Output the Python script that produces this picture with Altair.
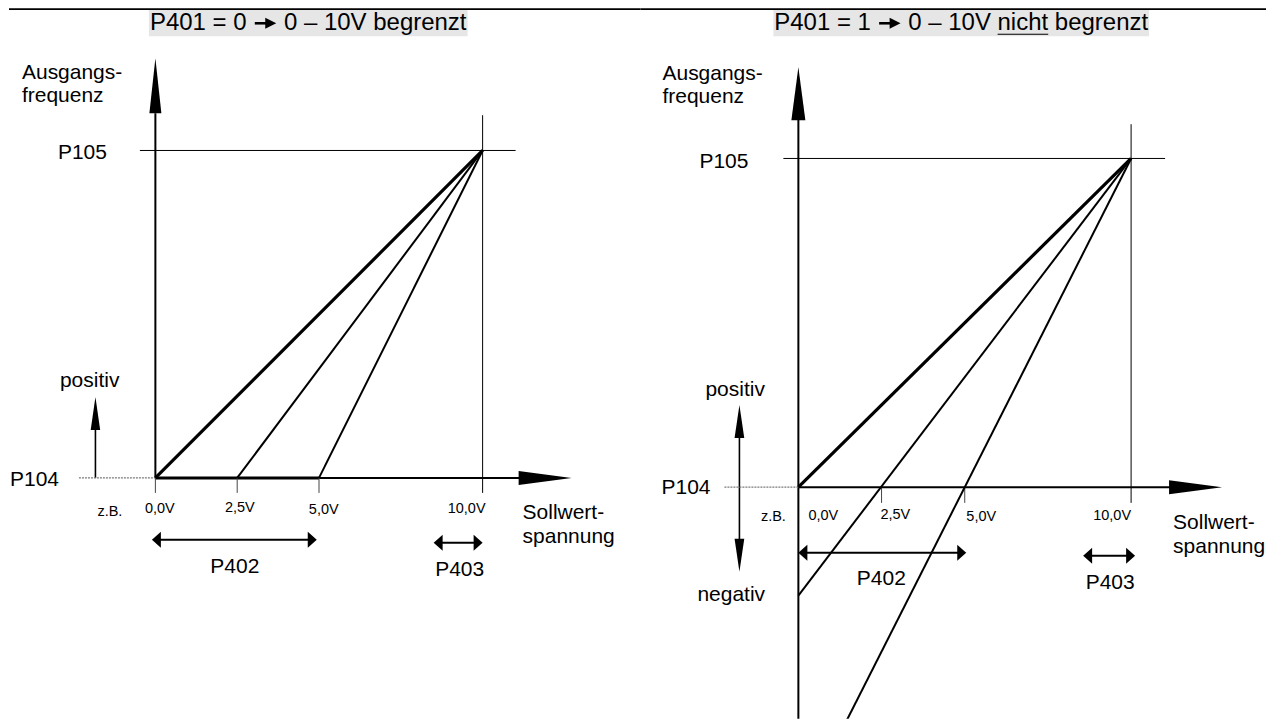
import altair as alt
import pandas as pd

FONT = "Liberation Sans"

# ---------------- data ----------------
volt_ticks = [0.0, 2.5, 5.0, 10.0]
volt_tick_labels = ["0,0V", "2,5V", "5,0V", "10,0V"]
p402_offsets = [0.0, 2.5, 5.0]            # voltage at which each characteristic starts
v_max = 10.0                              # P403 end point (10 V)
f_p104 = 0.0                              # minimum frequency level
f_p105 = 1.0                              # maximum frequency level
right_f_at_0v = [0.0, -0.33, -1.0]        # frequency reached at 0 V when not limited
line_kind = ["thick", "thin", "thin"]
title_left_parts = ["P401 = 0", "0 \u2013 10V begrenzt"]
title_right_parts = ["P401 = 1", "0 \u2013 10V nicht begrenzt"]

# ---------------- layout helpers ----------------
TOP = 8
H = 711
FS_T = 24
EM_A = 4.309      # width of "P401 = 0 " in em (Arial metrics)
EM_ARROW = 1.0
EM_SP = 0.278


class Geo:
    def __init__(self, left, width, ox, sx, oy, sy):
        self.left, self.width = left, width
        self.ox, self.sx, self.oy, self.sy = ox, sx, oy, sy

    def vx(self, px):
        return (px - self.ox) / self.sx

    def fy(self, py):
        return (self.oy - py) / self.sy

    def xdom(self):
        return [self.vx(self.left), self.vx(self.left + self.width)]

    def ydom(self):
        return [self.fy(TOP + H), self.fy(TOP)]


def head(g, xt, yt, L, Wd, ang):
    h = Wd / L
    return dict(x=g.vx(xt), y=g.fy(yt), shape=f"M0,0L{h:.4f},2L{-h:.4f},2Z", size=L * L, ang=ang)


def R(g, x1, y1, x2, y2, w, c="#000000"):
    return dict(x=x1, x2=x2, y=y1, y2=y2, w=w, c=c)


def title_items(g, parts, start, ty, rules, heads, texts_l):
    ax = start + EM_A * FS_T
    texts_l.append(dict(x=g.vx(start), y=g.fy(ty), t=parts[0], fs=FS_T))
    texts_l.append(dict(x=g.vx(ax + (EM_ARROW + EM_SP) * FS_T), y=g.fy(ty), t=parts[1], fs=FS_T))
    rules.append(R(g, g.vx(ax + 1.5), g.fy(ty + 0.5), g.vx(ax + 13.5), g.fy(ty + 0.5), 2.6))
    heads.append(head(g, ax + 23, ty + 0.5, 11, 11, 90))
    return ax


def panel(g, rules, dashes, curves, heads, texts_l, texts_c, rects):
    X = dict(scale=alt.Scale(domain=g.xdom(), nice=False, zero=False), axis=None)
    Y = dict(scale=alt.Scale(domain=g.ydom(), nice=False, zero=False), axis=None)

    def xe():
        return alt.X("x:Q", **X)

    def ye():
        return alt.Y("y:Q", **Y)

    layers = [
        alt.Chart(pd.DataFrame(rects)).mark_rect(color="#e6e6e6").encode(
            x=xe(), x2="x2:Q", y=ye(), y2="y2:Q"),
        alt.Chart(pd.DataFrame(rules)).mark_rule(strokeCap="butt").encode(
            x=xe(), x2="x2:Q", y=ye(), y2="y2:Q",
            strokeWidth=alt.StrokeWidth("w:Q", scale=None),
            color=alt.Color("c:N", scale=None)),
        alt.Chart(pd.DataFrame(dashes)).mark_rule(strokeDash=[2, 1], color="#7a7a7a", strokeWidth=1.2).encode(
            x=xe(), x2="x2:Q", y=ye(), y2="y2:Q"),
        alt.Chart(pd.DataFrame(curves)).mark_line(clip=True, color="#000000", strokeJoin="miter").encode(
            x=xe(), y=ye(), detail="id:N", order="o:Q",
            strokeWidth=alt.StrokeWidth("w:Q", scale=None)),
        alt.Chart(pd.DataFrame(heads)).mark_point(filled=True, opacity=1, color="#000000", strokeWidth=0).encode(
            x=xe(), y=ye(),
            shape=alt.Shape("shape:N", scale=None),
            size=alt.Size("size:Q", scale=None),
            angle=alt.Angle("ang:Q", scale=None)),
        alt.Chart(pd.DataFrame(texts_l)).mark_text(font=FONT, align="left", baseline="middle", color="#000000").encode(
            x=xe(), y=ye(), text="t:N", size=alt.Size("fs:Q", scale=None)),
        alt.Chart(pd.DataFrame(texts_c)).mark_text(font=FONT, align="center", baseline="middle", color="#000000").encode(
            x=xe(), y=ye(), text="t:N", size=alt.Size("fs:Q", scale=None)),
    ]
    return alt.layer(*layers).properties(width=g.width, height=H)


BIG = 21
SMALL = 14.5

# ======================= LEFT PANEL (begrenzt) =======================
gL = Geo(left=8, width=632, ox=154.5, sx=(482 - 154.5) / 10.0, oy=478, sy=478 - 150.3)
v0, f0, f1 = volt_ticks[0], f_p104, f_p105
rulesL = [
    R(gL, gL.vx(8), gL.fy(8.8), gL.vx(640), gL.fy(8.8), 1.6),               # top border
    R(gL, v0, f0, v0, gL.fy(113), 2),                                      # y axis
    R(gL, v0, f0, gL.vx(520), f0, 2),                                      # x axis
    R(gL, v0, f0, max(p402_offsets), f0, 3),                               # limited part
    R(gL, gL.vx(139), f1, gL.vx(515), f1, 1),                              # P105 level
    R(gL, v_max, gL.fy(115), v_max, gL.fy(493), 1),                        # 10 V line
    R(gL, gL.vx(94.5), f0, gL.vx(94.5), gL.fy(428), 1.6),                  # positiv arrow
    R(gL, gL.vx(158), gL.fy(540), gL.vx(313), gL.fy(540), 2),              # P402
    R(gL, gL.vx(440), gL.fy(543), gL.vx(475), gL.fy(543), 2),              # P403
]
for v in volt_ticks[:3]:
    rulesL.append(R(gL, v, f0, v, gL.fy(493), 1, "#444444"))
dashesL = [dict(x=gL.vx(78), x2=v0, y=f0, y2=f0)]
curvesL = []
for k, s in enumerate(p402_offsets):
    w = 3.2 if line_kind[k] == "thick" else 2.0
    for o, (vx_, fy_) in enumerate([(s, f0), (v_max, f_p105)]):
        curvesL.append(dict(id=f"L{k}", o=o, x=vx_, y=fy_, w=w))
headsL = [
    head(gL, 154.5, 58, 55, 12, 0),
    head(gL, 571, 478, 53, 14, 90),
    head(gL, 94.5, 397, 33, 9.5, 0),
    head(gL, 151, 540, 9, 16, 270),
    head(gL, 316, 540, 9, 16, 90),
    head(gL, 433, 543, 9, 16, 270),
    head(gL, 482, 543, 9, 16, 90),
]
textsL_l = [
    dict(x=gL.vx(21), y=gL.fy(73), t="Ausgangs-", fs=BIG),
    dict(x=gL.vx(21), y=gL.fy(96), t="frequenz", fs=BIG),
    dict(x=gL.vx(57), y=gL.fy(153), t="P105", fs=BIG),
    dict(x=gL.vx(59), y=gL.fy(381), t="positiv", fs=BIG),
    dict(x=gL.vx(9), y=gL.fy(480), t="P104", fs=BIG),
    dict(x=gL.vx(522), y=gL.fy(513), t="Sollwert-", fs=BIG),
    dict(x=gL.vx(522), y=gL.fy(537), t="spannung", fs=BIG),
]
tick_xL = [159, 239, 323, 466]
tick_yL = [509, 508, 510, 509]
textsL_c = [
    dict(x=gL.vx(109), y=gL.fy(512), t="z.B.", fs=SMALL),
    dict(x=gL.vx(234), y=gL.fy(567), t="P402", fs=BIG),
    dict(x=gL.vx(459), y=gL.fy(570), t="P403", fs=BIG),
]
for lab, px, py in zip(volt_tick_labels, tick_xL, tick_yL):
    textsL_c.append(dict(x=gL.vx(px), y=gL.fy(py), t=lab, fs=SMALL))
rectsL = [dict(x=gL.vx(148), x2=gL.vx(467), y=gL.fy(9.5), y2=gL.fy(36))]
title_items(gL, title_left_parts, 307.5 - 13.203 * FS_T / 2, 22.5, rulesL, headsL, textsL_l)
left = panel(gL, rulesL, dashesL, curvesL, headsL, textsL_l, textsL_c, rectsL)

# ======================= RIGHT PANEL (nicht begrenzt) =======================
gR = Geo(left=640, width=626, ox=798, sx=(1131 - 798) / 10.0, oy=487.3, sy=487.3 - 158.3)
t_start = 961 - 15.593 * FS_T / 2
u1, u2 = t_start + 9.312 * FS_T, t_start + 11.424 * FS_T
rulesR = [
    R(gR, gR.vx(640), gR.fy(8.8), gR.vx(1266), gR.fy(8.8), 1.6),         # top border
    R(gR, v0, gR.fy(TOP + H), v0, gR.fy(118), 2),                          # y axis
    R(gR, v0, f0, gR.vx(1171), f0, 2),                                     # x axis
    R(gR, gR.vx(783), f1, gR.vx(1165), f1, 1),                             # P105 level
    R(gR, v_max, gR.fy(124), v_max, gR.fy(503), 1),                        # 10 V line
    R(gR, gR.vx(739), gR.fy(436), gR.vx(739), gR.fy(540), 1.6),            # pos/neg arrow
    R(gR, gR.vx(805), gR.fy(553), gR.vx(960), gR.fy(553), 2),              # P402
    R(gR, gR.vx(1090), gR.fy(556), gR.vx(1128), gR.fy(556), 2),            # P403
    R(gR, gR.vx(u1), gR.fy(34), gR.vx(u2), gR.fy(34), 1.2),                # underline "nicht"
]
for v in volt_ticks[1:3]:
    rulesR.append(R(gR, v, f0, v, gR.fy(503), 1, "#444444"))
dashesR = [dict(x=gR.vx(724), x2=v0, y=f0, y2=f0)]
curvesR = []
for k, fstart in enumerate(right_f_at_0v):
    w = 3.2 if line_kind[k] == "thick" else 2.0
    for o, (vx_, fy_) in enumerate([(v0, fstart), (v_max, f_p105)]):
        curvesR.append(dict(id=f"R{k}", o=o, x=vx_, y=fy_, w=w))
headsR = [
    head(gR, 798, 67, 53, 14, 0),
    head(gR, 1222, 487.3, 53, 14, 90),
    head(gR, 739, 405, 33, 9.7, 0),
    head(gR, 739, 572, 33, 9.7, 180),
    head(gR, 798, 553, 9, 16, 270),
    head(gR, 966, 553, 9, 16, 90),
    head(gR, 1083, 556, 9, 16, 270),
    head(gR, 1135, 556, 9, 16, 90),
]
textsR_l = [
    dict(x=gR.vx(662), y=gR.fy(74), t="Ausgangs-", fs=BIG),
    dict(x=gR.vx(662), y=gR.fy(97), t="frequenz", fs=BIG),
    dict(x=gR.vx(699), y=gR.fy(162), t="P105", fs=BIG),
    dict(x=gR.vx(705), y=gR.fy(390), t="positiv", fs=BIG),
    dict(x=gR.vx(661), y=gR.fy(488), t="P104", fs=BIG),
    dict(x=gR.vx(697), y=gR.fy(595), t="negativ", fs=BIG),
    dict(x=gR.vx(1173), y=gR.fy(523), t="Sollwert-", fs=BIG),
    dict(x=gR.vx(1173), y=gR.fy(547), t="spannung", fs=BIG),
]
tick_xR = [823, 895, 981, 1112]
tick_yR = [516, 515, 517, 516]
textsR_c = [
    dict(x=gR.vx(773), y=gR.fy(517), t="z.B.", fs=SMALL),
    dict(x=gR.vx(881), y=gR.fy(579), t="P402", fs=BIG),
    dict(x=gR.vx(1110), y=gR.fy(583), t="P403", fs=BIG),
]
for lab, px, py in zip(volt_tick_labels, tick_xR, tick_yR):
    textsR_c.append(dict(x=gR.vx(px), y=gR.fy(py), t=lab, fs=SMALL))
rectsR = [dict(x=gR.vx(773), x2=gR.vx(1149), y=gR.fy(9.5), y2=gR.fy(36))]
title_items(gR, title_right_parts, t_start, 22.5, rulesR, headsR, textsR_l)
right = panel(gR, rulesR, dashesR, curvesR, headsR, textsR_l, textsR_c, rectsR)

chart = (
    alt.hconcat(left, right, spacing=0, bounds="flush")
    .properties(padding=0, background="#ffffff")
    .configure_view(stroke=None)
)
chart.save("out.html", embed_options={"renderer": "svg", "actions": False})
